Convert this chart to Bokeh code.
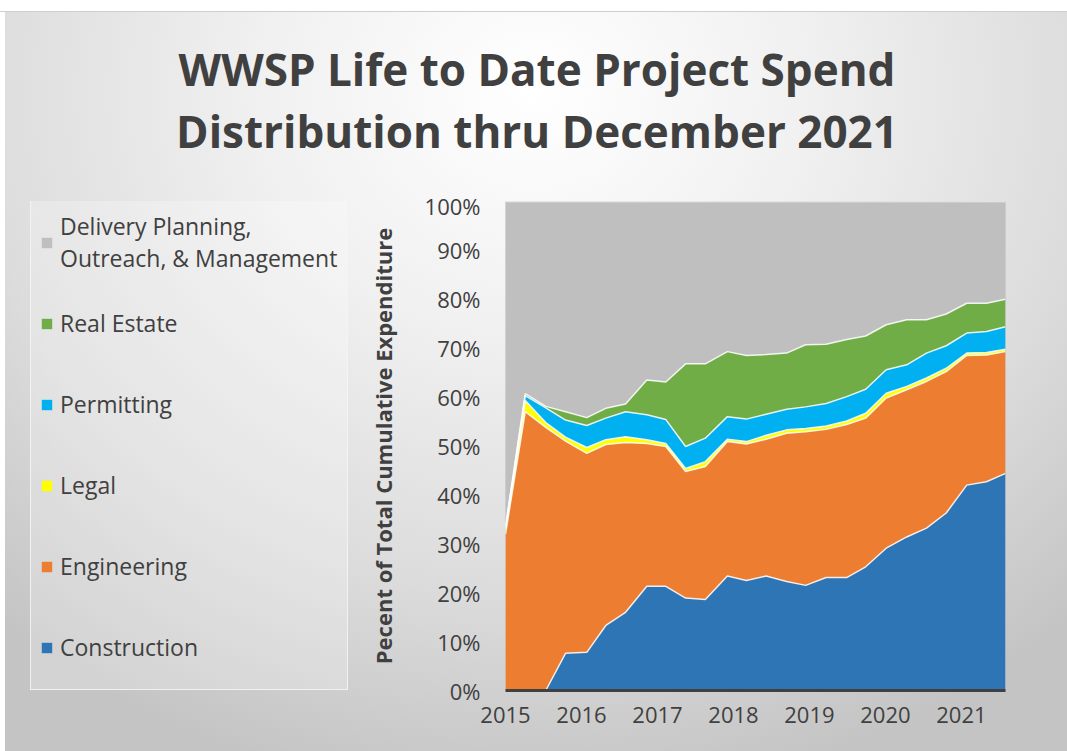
from bokeh.plotting import figure
from bokeh.layouts import column, row
from bokeh.models import (ColumnDataSource, Range1d, FixedTicker, PrintfTickFormatter,
                          Legend, LegendItem, Title)
from bokeh.embed import file_html
from bokeh.resources import INLINE

# ---- data (percent of total cumulative expenditure) ----
period = [2015.00, 2015.26, 2015.53, 2015.79, 2016.07, 2016.32, 2016.58, 2016.86,
          2017.11, 2017.37, 2017.63, 2017.92, 2018.17, 2018.43, 2018.70, 2018.95,
          2019.22, 2019.49, 2019.74, 2020.01, 2020.28, 2020.54, 2020.80, 2021.07,
          2021.33, 2021.58]
construction = [0.0, 0.0, 0.0, 7.6, 7.8, 13.3, 16.0, 21.3, 21.3, 18.9, 18.6, 23.4, 22.5,
                23.4, 22.3, 21.5, 23.1, 23.1, 25.3, 29.1, 31.4, 33.2, 36.3, 42.0, 42.7, 44.4]
engineering = [32.0, 57.0, 53.8, 43.4, 40.7, 37.0, 34.7, 29.2, 28.6, 25.9, 27.2, 27.5, 27.9,
               28.0, 30.3, 31.4, 30.3, 31.3, 30.4, 30.7, 30.1, 30.0, 28.9, 26.5, 25.9, 24.9]
legal = [1.0, 2.3, 1.0, 0.8, 1.2, 1.0, 1.2, 0.8, 0.6, 0.6, 1.0, 0.5, 0.5,
         0.8, 0.7, 0.7, 0.7, 0.7, 1.0, 1.0, 0.7, 0.7, 0.7, 0.5, 0.5, 0.5]
permitting = [0.3, 1.0, 3.0, 3.5, 4.5, 4.4, 5.1, 5.1, 4.9, 4.5, 4.8, 4.6, 4.6,
              4.3, 4.2, 4.4, 4.6, 5.0, 4.9, 4.8, 4.4, 5.1, 4.6, 4.1, 4.3, 4.6]
real_estate = [0.2, 0.4, 0.3, 1.7, 1.6, 2.0, 1.6, 7.1, 7.7, 16.9, 15.2, 13.3, 13.0,
               12.2, 11.5, 12.7, 12.1, 11.7, 10.9, 9.2, 9.2, 6.8, 6.5, 6.1, 5.8, 5.6]
delivery = [66.5, 39.3, 41.9, 43.0, 44.2, 42.3, 41.4, 36.5, 36.9, 33.2, 33.2, 30.7, 31.5,
            31.3, 31.0, 29.3, 29.2, 28.2, 27.5, 25.2, 24.2, 24.2, 23.0, 20.8, 20.8, 20.0]

legend_labels = ["Construction", "Engineering", "Legal", "Permitting", "Real Estate",
                 "Delivery Planning,\nOutreach, & Management"]
title_lines = ["WWSP Life to Date Project Spend", "Distribution thru December 2021"]
y_title = "Pecent of Total Cumulative Expenditure"
year_ticks = [2015, 2016, 2017, 2018, 2019, 2020, 2021]
pct_ticks = [0, 10, 20, 30, 40, 50, 60, 70, 80, 90, 100]

colors = ["#2E75B6", "#ED7D31", "#FFFF00", "#00B0F0", "#70AD47", "#BFBFBF"]
keys = ["construction", "engineering", "legal", "permitting", "real_estate", "delivery"]

source = ColumnDataSource(dict(x=period, construction=construction, engineering=engineering,
                               legal=legal, permitting=permitting, real_estate=real_estate,
                               delivery=delivery))

TXT = "#404040"
FONT = "Open Sans"


def clear(fig):
    fig.border_fill_color = None
    fig.background_fill_color = None
    fig.outline_line_color = None
    fig.grid.visible = False


# ---- title strip ----
T = figure(width=1067, height=190, output_backend="svg", toolbar_location=None,
           x_axis_location=None, y_axis_location=None,
           x_range=Range1d(0, 1), y_range=Range1d(0, 1),
           min_border_left=6, min_border_right=0, min_border_top=160, min_border_bottom=0)
clear(T)
T.title.text = title_lines[0]
T.title.align = "center"
T.title.standoff = 0
T.add_layout(Title(text=title_lines[1], align="center", standoff=0), "above")
for t in T.above + [T.title]:
    if isinstance(t, Title):
        t.text_font = FONT
        t.text_font_size = "44px"
        t.text_font_style = "bold"
        t.text_color = TXT

# ---- chart ----
C = figure(width=707, height=561, output_backend="svg", toolbar_location=None,
           x_range=Range1d(period[0], period[-1]), y_range=Range1d(0, 100),
           min_border_left=145, min_border_right=62, min_border_top=11, min_border_bottom=61)
clear(C)
C.background_fill_color = "#BFBFBF"

areas = C.varea_stack(stackers=keys, x="x", color=colors, source=source)
C.vline_stack(stackers=keys, x="x", color="white", line_width=1.5, line_alpha=0.85, source=source)

C.xaxis.ticker = FixedTicker(ticks=year_ticks)
C.xaxis.formatter = PrintfTickFormatter(format="%d")
C.xaxis.axis_line_color = "#404040"
C.xaxis.axis_line_width = 3
C.xaxis.major_tick_line_color = None
C.xaxis.minor_tick_line_color = None
C.xaxis.major_label_standoff = 10
C.yaxis.ticker = FixedTicker(ticks=pct_ticks)
C.yaxis.formatter = PrintfTickFormatter(format="%d%%")
C.yaxis.axis_line_color = None
C.yaxis.major_tick_line_color = None
C.yaxis.minor_tick_line_color = None
C.yaxis.major_label_standoff = 19
C.yaxis.axis_label = y_title
C.yaxis.axis_label_text_font = FONT
C.yaxis.axis_label_text_font_style = "bold"
C.yaxis.axis_label_text_font_size = "22px"
C.yaxis.axis_label_text_color = TXT
C.yaxis.axis_label_standoff = 24
for ax in (C.xaxis, C.yaxis):
    ax.major_label_text_font = FONT
    ax.major_label_text_font_size = "22px"
    ax.major_label_text_color = TXT

# ---- legend panel (same stacked areas, drawn outside its view; only the legend shows) ----
L = figure(width=360, height=561, output_backend="svg", toolbar_location=None,
           x_axis_location=None, y_axis_location=None,
           x_range=Range1d(0, 1), y_range=Range1d(0, 1),
           min_border_left=0, min_border_right=0, min_border_top=11, min_border_bottom=61)
clear(L)
swatches = L.varea_stack(stackers=keys, x="x", color=colors, source=source)
items = [LegendItem(label=legend_labels[i], renderers=[swatches[i]]) for i in range(5, -1, -1)]
legend = Legend(items=items, location=(30, 0), orientation="vertical",
                label_text_font=FONT, label_text_font_size="23px", label_text_color=TXT,
                label_text_line_height=1.5,
                glyph_width=13, glyph_height=13, label_standoff=7, label_height=66,
                label_width=278, spacing=15, padding=9,
                background_fill_color="#ffffff", background_fill_alpha=0.25,
                border_line_color="#f4f4f4", border_line_alpha=0.9, border_line_width=1.5)
L.add_layout(legend, "center")

layout = column(T, row(L, C), styles={"background": (
    "linear-gradient(#ffffff,#ffffff) 0 0/100% 11px no-repeat, "
    "linear-gradient(#cfcfcf,#cfcfcf) 0 11px/100% 1px no-repeat, "
    "linear-gradient(#ffffff,#ffffff) 0 0/5px 100% no-repeat, "
    "radial-gradient(ellipse 75% 95% at 50% 12%, #ffffff 0%, #f0f0f0 35%, #dcdcdc 70%, #c4c4c4 100%)")})

open("out.html", "w").write(file_html(layout, INLINE))
